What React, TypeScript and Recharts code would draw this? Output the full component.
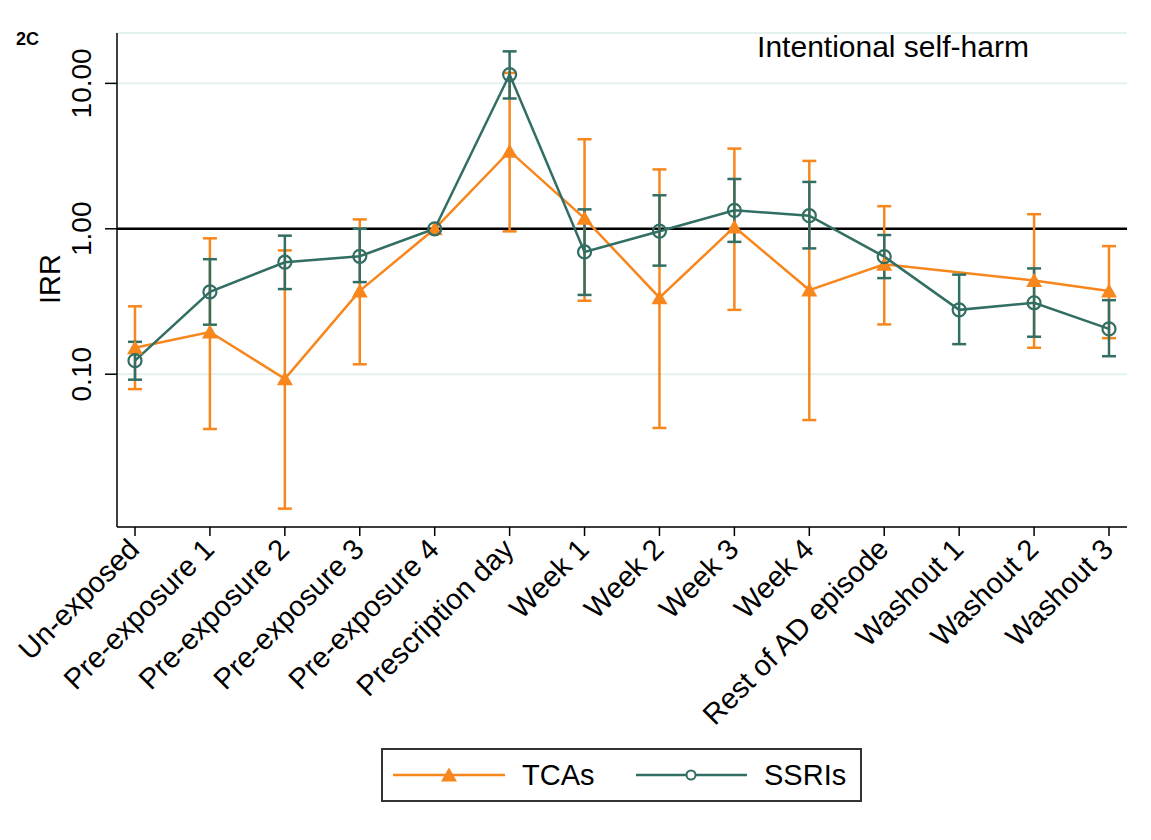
import { LineChart, Line, XAxis, YAxis, CartesianGrid, ReferenceLine, ErrorBar } from "recharts";

const categories = [
  "Un-exposed",
  "Pre-exposure 1",
  "Pre-exposure 2",
  "Pre-exposure 3",
  "Pre-exposure 4",
  "Prescription day",
  "Week 1",
  "Week 2",
  "Week 3",
  "Week 4",
  "Rest of AD episode",
  "Washout 1",
  "Washout 2",
  "Washout 3",
];

// TCAs: point estimate and 95% CI
const tcaIrr = [0.152, 0.195, 0.093, 0.374, 1, 3.42, 1.18, 0.336, 1.03, 0.379, 0.57, null, 0.441, 0.374];
const tcaLow = [0.079, 0.042, 0.0119, 0.117, null, 0.96, 0.32, 0.0427, 0.277, 0.0484, 0.22, null, 0.152, 0.177];
const tcaHigh = [0.293, 0.86, 0.71, 1.16, null, 11.8, 4.13, 2.56, 3.56, 2.93, 1.43, null, 1.26, 0.76];

// SSRIs: point estimate and 95% CI
const ssriIrr = [0.124, 0.368, 0.589, 0.647, 1, 11.5, 0.693, 0.963, 1.34, 1.23, 0.643, 0.277, 0.31, 0.205];
const ssriLow = [0.0917, 0.219, 0.385, 0.43, null, 7.87, 0.351, 0.558, 0.813, 0.733, 0.458, 0.161, 0.181, 0.133];
const ssriHigh = [0.167, 0.618, 0.897, 1.0, null, 16.6, 1.36, 1.7, 2.2, 2.1, 0.906, 0.484, 0.534, 0.323];

const yTicks = [0.1, 1, 10];

const ORANGE = "#F7861C";
const GREEN = "#326E63";
const FONT = "'Liberation Sans', Arial, sans-serif";

const errDelta = (v: number | null, lo: number | null, hi: number | null) =>
  v == null || lo == null || hi == null ? undefined : [v - lo, hi - v];

const data = categories.map((name, i) => ({
  name,
  tca: tcaIrr[i],
  ssri: ssriIrr[i],
  tcaErr: errDelta(tcaIrr[i], tcaLow[i], tcaHigh[i]),
  ssriErr: errDelta(ssriIrr[i], ssriLow[i], ssriHigh[i]),
}));

const XTick = (props: any) => {
  const { x, y, payload } = props;
  return (
    <text
      transform={`translate(${x + 6},${y + 15}) rotate(-45)`}
      textAnchor="end"
      fontSize={29}
      fontFamily={FONT}
      fill="#000"
    >
      {payload.value}
    </text>
  );
};

const YTick = (props: any) => {
  const { y, payload } = props;
  return (
    <text
      transform={`translate(91,${y}) rotate(-90)`}
      textAnchor="middle"
      fontSize={28}
      fontFamily={FONT}
      fill="#000"
    >
      {payload.value.toFixed(2)}
    </text>
  );
};

const IrrLabel = () => (
  <text
    transform="translate(60,279) rotate(-90)"
    textAnchor="middle"
    fontSize={29}
    fontFamily={FONT}
    fill="#000"
  >
    IRR
  </text>
);

const TriangleDot = (props: any) => {
  const { cx, cy, index } = props;
  if (cx == null || cy == null || props.value == null) return <g key={`t-${index}`} />;
  return (
    <path
      key={`t-${index}`}
      d={`M${cx},${cy - 7.5} L${cx + 8},${cy + 6.5} L${cx - 8},${cy + 6.5} Z`}
      fill={ORANGE}
      stroke="none"
    />
  );
};

const CircleDot = (props: any) => {
  const { cx, cy, index } = props;
  if (cx == null || cy == null) return <g key={`c-${index}`} />;
  return <circle key={`c-${index}`} cx={cx} cy={cy} r={6.5} fill="none" stroke={GREEN} strokeWidth={2.2} />;
};

export default function App() {
  return (
    <div style={{ position: "absolute", left: 0, top: 0, width: 1151, height: 840, background: "#fff", fontFamily: FONT }}>
      <LineChart
        width={1151}
        height={840}
        data={data}
        margin={{ top: 33, right: 24, left: 0, bottom: 113 }}
      >
        <CartesianGrid vertical={false} stroke="#e3f1f1" strokeWidth={2} />
        <XAxis
          dataKey="name"
          interval={0}
          padding={{ left: 18, right: 18 }}
          height={200}
          tickSize={9}
          tickMargin={0}
          axisLine={{ stroke: "#000", strokeWidth: 1.5 }}
          tickLine={{ stroke: "#000", strokeWidth: 1.5 }}
          tick={<XTick />}
        />
        <YAxis
          type="number"
          scale="log"
          domain={[0.0089, 22.2]}
          allowDataOverflow
          ticks={yTicks}
          width={117}
          tickSize={12}
          axisLine={{ stroke: "#000", strokeWidth: 1.5 }}
          tickLine={{ stroke: "#000", strokeWidth: 1.5 }}
          tick={<YTick />}
          label={<IrrLabel />}
        />
        <ReferenceLine y={1} stroke="#000" strokeWidth={2.5} />
        <Line
          dataKey="tca"
          stroke={ORANGE}
          strokeWidth={2.5}
          connectNulls
          dot={(p: any) => <TriangleDot {...p} />}
          activeDot={false}
          isAnimationActive={false}
        >
          <ErrorBar dataKey="tcaErr" direction="y" width={7} stroke={ORANGE} strokeWidth={2.5} isAnimationActive={false} />
        </Line>
        <Line
          dataKey="ssri"
          stroke={GREEN}
          strokeWidth={2.5}
          connectNulls
          dot={(p: any) => <CircleDot {...p} />}
          activeDot={false}
          isAnimationActive={false}
        >
          <ErrorBar dataKey="ssriErr" direction="y" width={7} stroke={GREEN} strokeWidth={2.5} isAnimationActive={false} />
        </Line>
      </LineChart>

      <div style={{ position: "absolute", left: 16, top: 29, fontSize: "18px", lineHeight: "20px", fontWeight: 700, color: "#000" }}>2C</div>
      <div style={{ position: "absolute", left: 743, top: 30, width: 300, textAlign: "center", fontSize: "30px", lineHeight: "34px", color: "#000", whiteSpace: "nowrap" }}>
        Intentional self-harm
      </div>

      <div
        style={{
          position: "absolute",
          left: 381,
          top: 748,
          width: 481,
          height: 54,
          boxSizing: "border-box",
          border: "2px solid #333",
          background: "#fff",
        }}
      >
        <svg width={477} height={50} style={{ display: "block" }}>
          <line x1={10} y1={25} x2={122} y2={25} stroke={ORANGE} strokeWidth={2.5} />
          <path d="M66,17.5 L74,31.5 L58,31.5 Z" fill={ORANGE} />
          <text x={139} y={35} fontSize={29} fontFamily={FONT} fill="#000">TCAs</text>
          <line x1={253} y1={25} x2={364} y2={25} stroke={GREEN} strokeWidth={2.5} />
          <circle cx={308} cy={25} r={4.5} fill="#fff" stroke={GREEN} strokeWidth={2} />
          <text x={381} y={35} fontSize={29} fontFamily={FONT} fill="#000">SSRIs</text>
        </svg>
      </div>
    </div>
  );
}
